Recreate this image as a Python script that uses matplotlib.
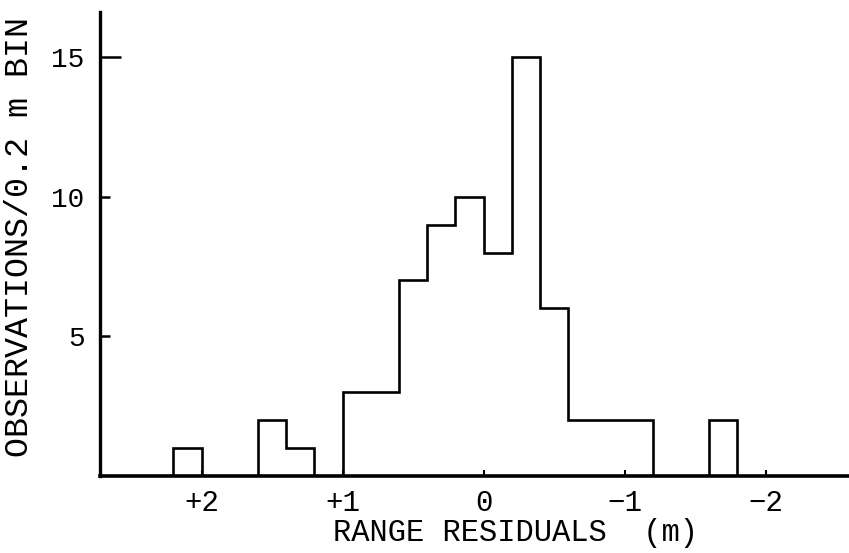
import numpy as np
import matplotlib
matplotlib.use('Agg')
import matplotlib.pyplot as plt


# 0.2 m bins, residual in metres (lower edge .. upper edge)
bin_edges = [-1.8, -1.6, -1.4, -1.2, -1.0, -0.8, -0.6, -0.4, -0.2, 0.0,
             0.2, 0.4, 0.6, 0.8, 1.0, 1.2, 1.4, 1.6, 1.8, 2.0, 2.2]
counts = [2, 0, 0, 2, 2, 2, 6, 15, 8, 10,
          9, 7, 3, 3, 0, 1, 2, 0, 0, 1]

x_ticks = [2, 1, 0, -1, -2]
x_tick_labels = ['+2', '+1', '0', '\u22121', '\u22122']
y_ticks = [5, 10, 15]

font = 'Liberation Mono'

fig = plt.figure(figsize=(8.49, 5.53), dpi=100)
ax = fig.add_axes([0.1178, 0.139, 0.882, 0.839])

ax.stairs(counts, bin_edges, baseline=0, color='black', linewidth=1.9)

ax.set_xlim(2.72, -2.59)
ax.set_ylim(0, 16.6)

for s in ['top', 'right']:
	ax.spines[s].set_visible(False)
ax.spines['left'].set_linewidth(2.4)
ax.spines['bottom'].set_linewidth(2.6)

ax.set_xticks(x_ticks)
ax.set_xticklabels(x_tick_labels, fontfamily=font, fontsize=21)
ax.set_yticks(y_ticks)
ax.set_yticklabels([str(v) for v in y_ticks], fontfamily=font, fontsize=20)

ax.tick_params(axis='x', direction='in', length=4, width=1.5, pad=9)
ax.tick_params(axis='y', direction='in', length=7, width=1.8, pad=11)
# the 15 tick is drawn longer on the original
ax.yaxis.get_major_ticks()[2].tick1line.set_markersize(15)

ax.set_xlabel('RANGE RESIDUALS  (m)', fontfamily=font, fontsize=22)
ax.xaxis.set_label_coords(0.555, -0.123)
ax.xaxis.label.set_va('center')

ax.set_ylabel('OBSERVATIONS/0.2 m BIN', fontfamily=font, fontsize=24)
ax.yaxis.set_label_coords(-0.107, 0.515)
ax.yaxis.label.set_va('center')

fig.savefig('out.png', dpi=100)
